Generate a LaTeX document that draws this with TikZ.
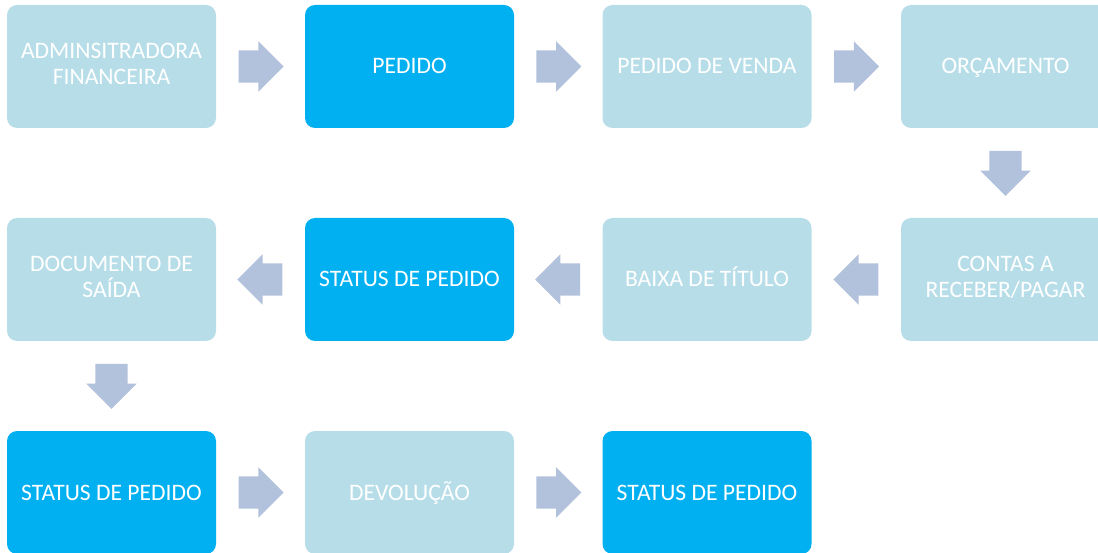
\documentclass[tikz,border=0pt]{standalone}
\usepackage{fontspec}
\setmainfont{Carlito}
\usepackage{tikz}
\usetikzlibrary{shapes.arrows}

\definecolor{claro}{HTML}{B7DEE8}
\definecolor{forte}{HTML}{00B0F0}
\definecolor{seta}{HTML}{B2C1DC}
\newcommand{\apoio}{\rule[-5pt]{0pt}{25pt}}

\begin{document}
\begin{tikzpicture}[x=1pt, y=-1pt,
    etapa/.style={rounded corners=10pt, fill=claro, text=white, align=center,
      minimum width=209pt, minimum height=123pt, inner sep=0pt,
      font=\fontsize{23.6}{26}\selectfont,
      execute at begin node=\apoio, execute at end node=\apoio},
    status/.style={etapa, fill=forte},
    fluxo/.style={pos=0.25, anchor=tail, sloped, allow upside down, single arrow,
      fill=seta, inner xsep=0pt, inner ysep=16pt, minimum height=45pt,
      minimum width=50pt, single arrow head extend=9pt}]
    \useasboundingbox (0,0) rectangle (1098,553);
    \clip (0,0) rectangle (1098,553);
    \node [etapa] (adm) at (111.5,66.5) {ADMINSITRADORA\\FINANCEIRA};
    \node [status] (pedido) at (409.5,66.5) {PEDIDO};
    \node [etapa] (venda) at (707,66.5) {PEDIDO DE VENDA};
    \node [etapa] (orcamento) at (1005.5,66.5) {ORÇAMENTO};
    \node [etapa] (contas) at (1005.5,279.5) {CONTAS A\\RECEBER/PAGAR};
    \node [etapa] (baixa) at (707,279.5) {BAIXA DE TÍTULO};
    \node [status] (status1) at (409.5,279.5) {STATUS DE PEDIDO};
    \node [etapa] (saida) at (111.5,279.5) {DOCUMENTO DE\\SAÍDA};
    \node [status] (status2) at (111.5,492.5) {STATUS DE PEDIDO};
    \node [etapa] (devolucao) at (409.5,492.5) {DEVOLUÇÃO};
    \node [status] (status3) at (707,492.5) {STATUS DE PEDIDO};
    \path (adm) -- (pedido) node [fluxo] {};
    \path (pedido) -- (venda) node [fluxo] {};
    \path (venda) -- (orcamento) node [fluxo] {};
    \path (orcamento) -- (contas) node [fluxo] {};
    \path (contas) -- (baixa) node [fluxo] {};
    \path (baixa) -- (status1) node [fluxo] {};
    \path (status1) -- (saida) node [fluxo] {};
    \path (saida) -- (status2) node [fluxo] {};
    \path (status2) -- (devolucao) node [fluxo] {};
    \path (devolucao) -- (status3) node [fluxo] {};
  \end{tikzpicture}
\end{document}
